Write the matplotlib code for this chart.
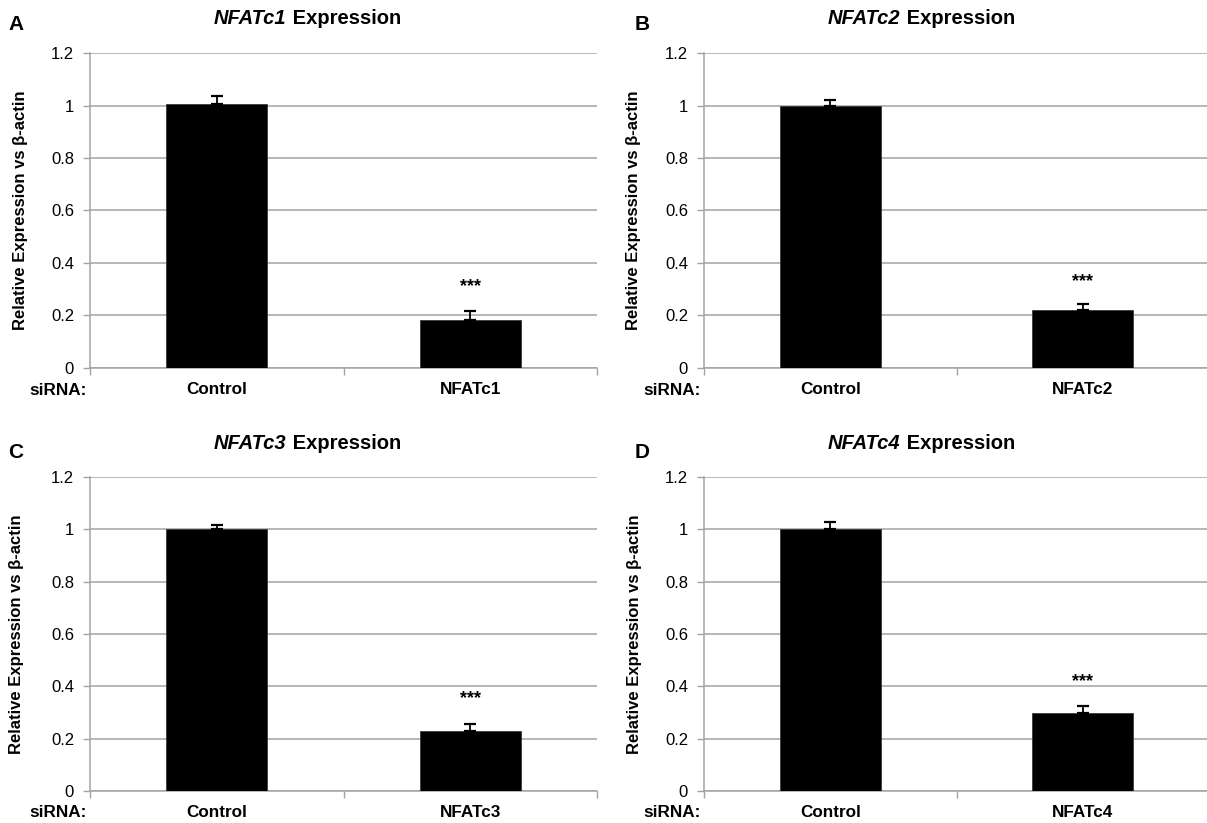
#!/usr/bin/env python3
"""NFATc1-4 knockdown: relative expression vs beta-actin, 2x2 bar panels."""

import matplotlib
matplotlib.use("Agg")
import matplotlib.pyplot as plt

plt.rcParams["font.family"] = ["Liberation Sans", "DejaVu Sans"]

W_PX, H_PX = 1207, 823

# ---------------------------------------------------------------------------
# Data
# ---------------------------------------------------------------------------
PANEL_LETTERS = ["A", "B", "C", "D"]
GENES = ["NFATc1", "NFATc2", "NFATc3", "NFATc4"]
CONTROL_MEAN = [1.005, 1.000, 1.000, 1.000]
CONTROL_ERR = [0.030, 0.022, 0.015, 0.028]
KNOCKDOWN_MEAN = [0.182, 0.220, 0.228, 0.300]
KNOCKDOWN_ERR = [0.034, 0.023, 0.028, 0.023]
STAR_Y = [0.31, 0.33, 0.355, 0.42]
YTICKS = [0, 0.2, 0.4, 0.6, 0.8, 1.0, 1.2]
YTICK_LABELS = ["0", "0.2", "0.4", "0.6", "0.8", "1", "1.2"]

GRID = "#a3a3a3"

# axes boxes in pixels: (left, top, width, height)
AX_BOXES = [(90, 53, 507, 315), (704, 53, 505, 315),
            (90, 477, 507, 314), (704, 477, 505, 314)]
LETTER_POS = [(16, 25), (642, 25), (16, 453), (642, 453)]
TITLE_POS = [(214, 19), (828, 19), (214, 443), (828, 443)]
YLABEL_X = [-0.122, -0.125, -0.13, -0.122]


def fx(px):
    return px / W_PX


def fy(py):
    return 1 - py / H_PX


def draw_panel(fig, i):
    left, top, w, h = AX_BOXES[i]
    ax = fig.add_axes([fx(left), fy(top + h), w / W_PX, h / H_PX])

    xs = [0.5, 1.5]
    means = [CONTROL_MEAN[i], KNOCKDOWN_MEAN[i]]
    errs = [CONTROL_ERR[i], KNOCKDOWN_ERR[i]]
    ax.bar(xs, means, width=0.4, color="black", edgecolor="#3a3a3a",
           linewidth=0.6, zorder=3)
    ax.errorbar(xs, means, yerr=[[0, 0], errs], fmt="none", ecolor="black",
                elinewidth=1.3, capsize=4.5, capthick=1.6, zorder=4)
    ax.text(xs[1], STAR_Y[i], "***", ha="center", va="center",
            fontsize=13, fontweight="bold")

    ax.set_xlim(0, 2)
    ax.set_ylim(0, 1.2)
    ax.set_yticks(YTICKS)
    ax.set_yticklabels(YTICK_LABELS, fontsize=12)
    ax.set_xticks([0, 1, 2])
    ax.set_xticklabels([])
    ax.set_xticks(xs, minor=True)
    ax.set_xticklabels(["Control", GENES[i]], minor=True,
                       fontsize=12.3, fontweight="bold")
    ax.tick_params(axis="x", which="minor", length=0, pad=10)
    ax.tick_params(axis="x", which="major", length=5, width=1, color=GRID)
    ax.tick_params(axis="y", length=5, width=1, color=GRID, pad=6.5)

    ax.grid(True, axis="y", color=GRID, linewidth=1.1, zorder=0)
    ax.set_axisbelow(True)
    for side in ("top", "right"):
        ax.spines[side].set_visible(False)
    for side in ("left", "bottom"):
        ax.spines[side].set_color(GRID)
        ax.spines[side].set_linewidth(1.1)

    ax.set_ylabel("Relative Expression vs \u03b2-actin", fontsize=12,
                  fontweight="bold")
    ax.yaxis.set_label_coords(YLABEL_X[i], 0.5)

    ax.text(-0.006, -0.07, "siRNA:", transform=ax.transAxes, ha="right",
            va="center", fontsize=12.3, fontweight="bold")

    # panel letter and title (italic gene + bold "Expression")
    lx, ly = LETTER_POS[i]
    fig.text(fx(lx), fy(ly), PANEL_LETTERS[i], ha="center", va="center",
             fontsize=15, fontweight="bold")
    tx, ty = TITLE_POS[i]
    t1 = fig.text(fx(tx), fy(ty), GENES[i], ha="left", va="center",
                  fontsize=14.5, fontweight="bold", style="italic")
    t2 = fig.text(fx(tx), fy(ty), " Expression", fontsize=14.5,
                  fontweight="bold", ha="left", va="center")
    return t1, t2


def main():
    fig = plt.figure(figsize=(W_PX / 100, H_PX / 100), dpi=100)
    pairs = [draw_panel(fig, i) for i in range(4)]

    # place the " Expression" half right after each italic gene name
    fig.canvas.draw()
    renderer = fig.canvas.get_renderer()
    for t1, t2 in pairs:
        bb = t1.get_window_extent(renderer)
        t2.set_position((bb.x1 / fig.bbox.width, t1.get_position()[1]))

    fig.savefig("out.png", dpi=100)
    plt.close(fig)


if __name__ == "__main__":
    main()
